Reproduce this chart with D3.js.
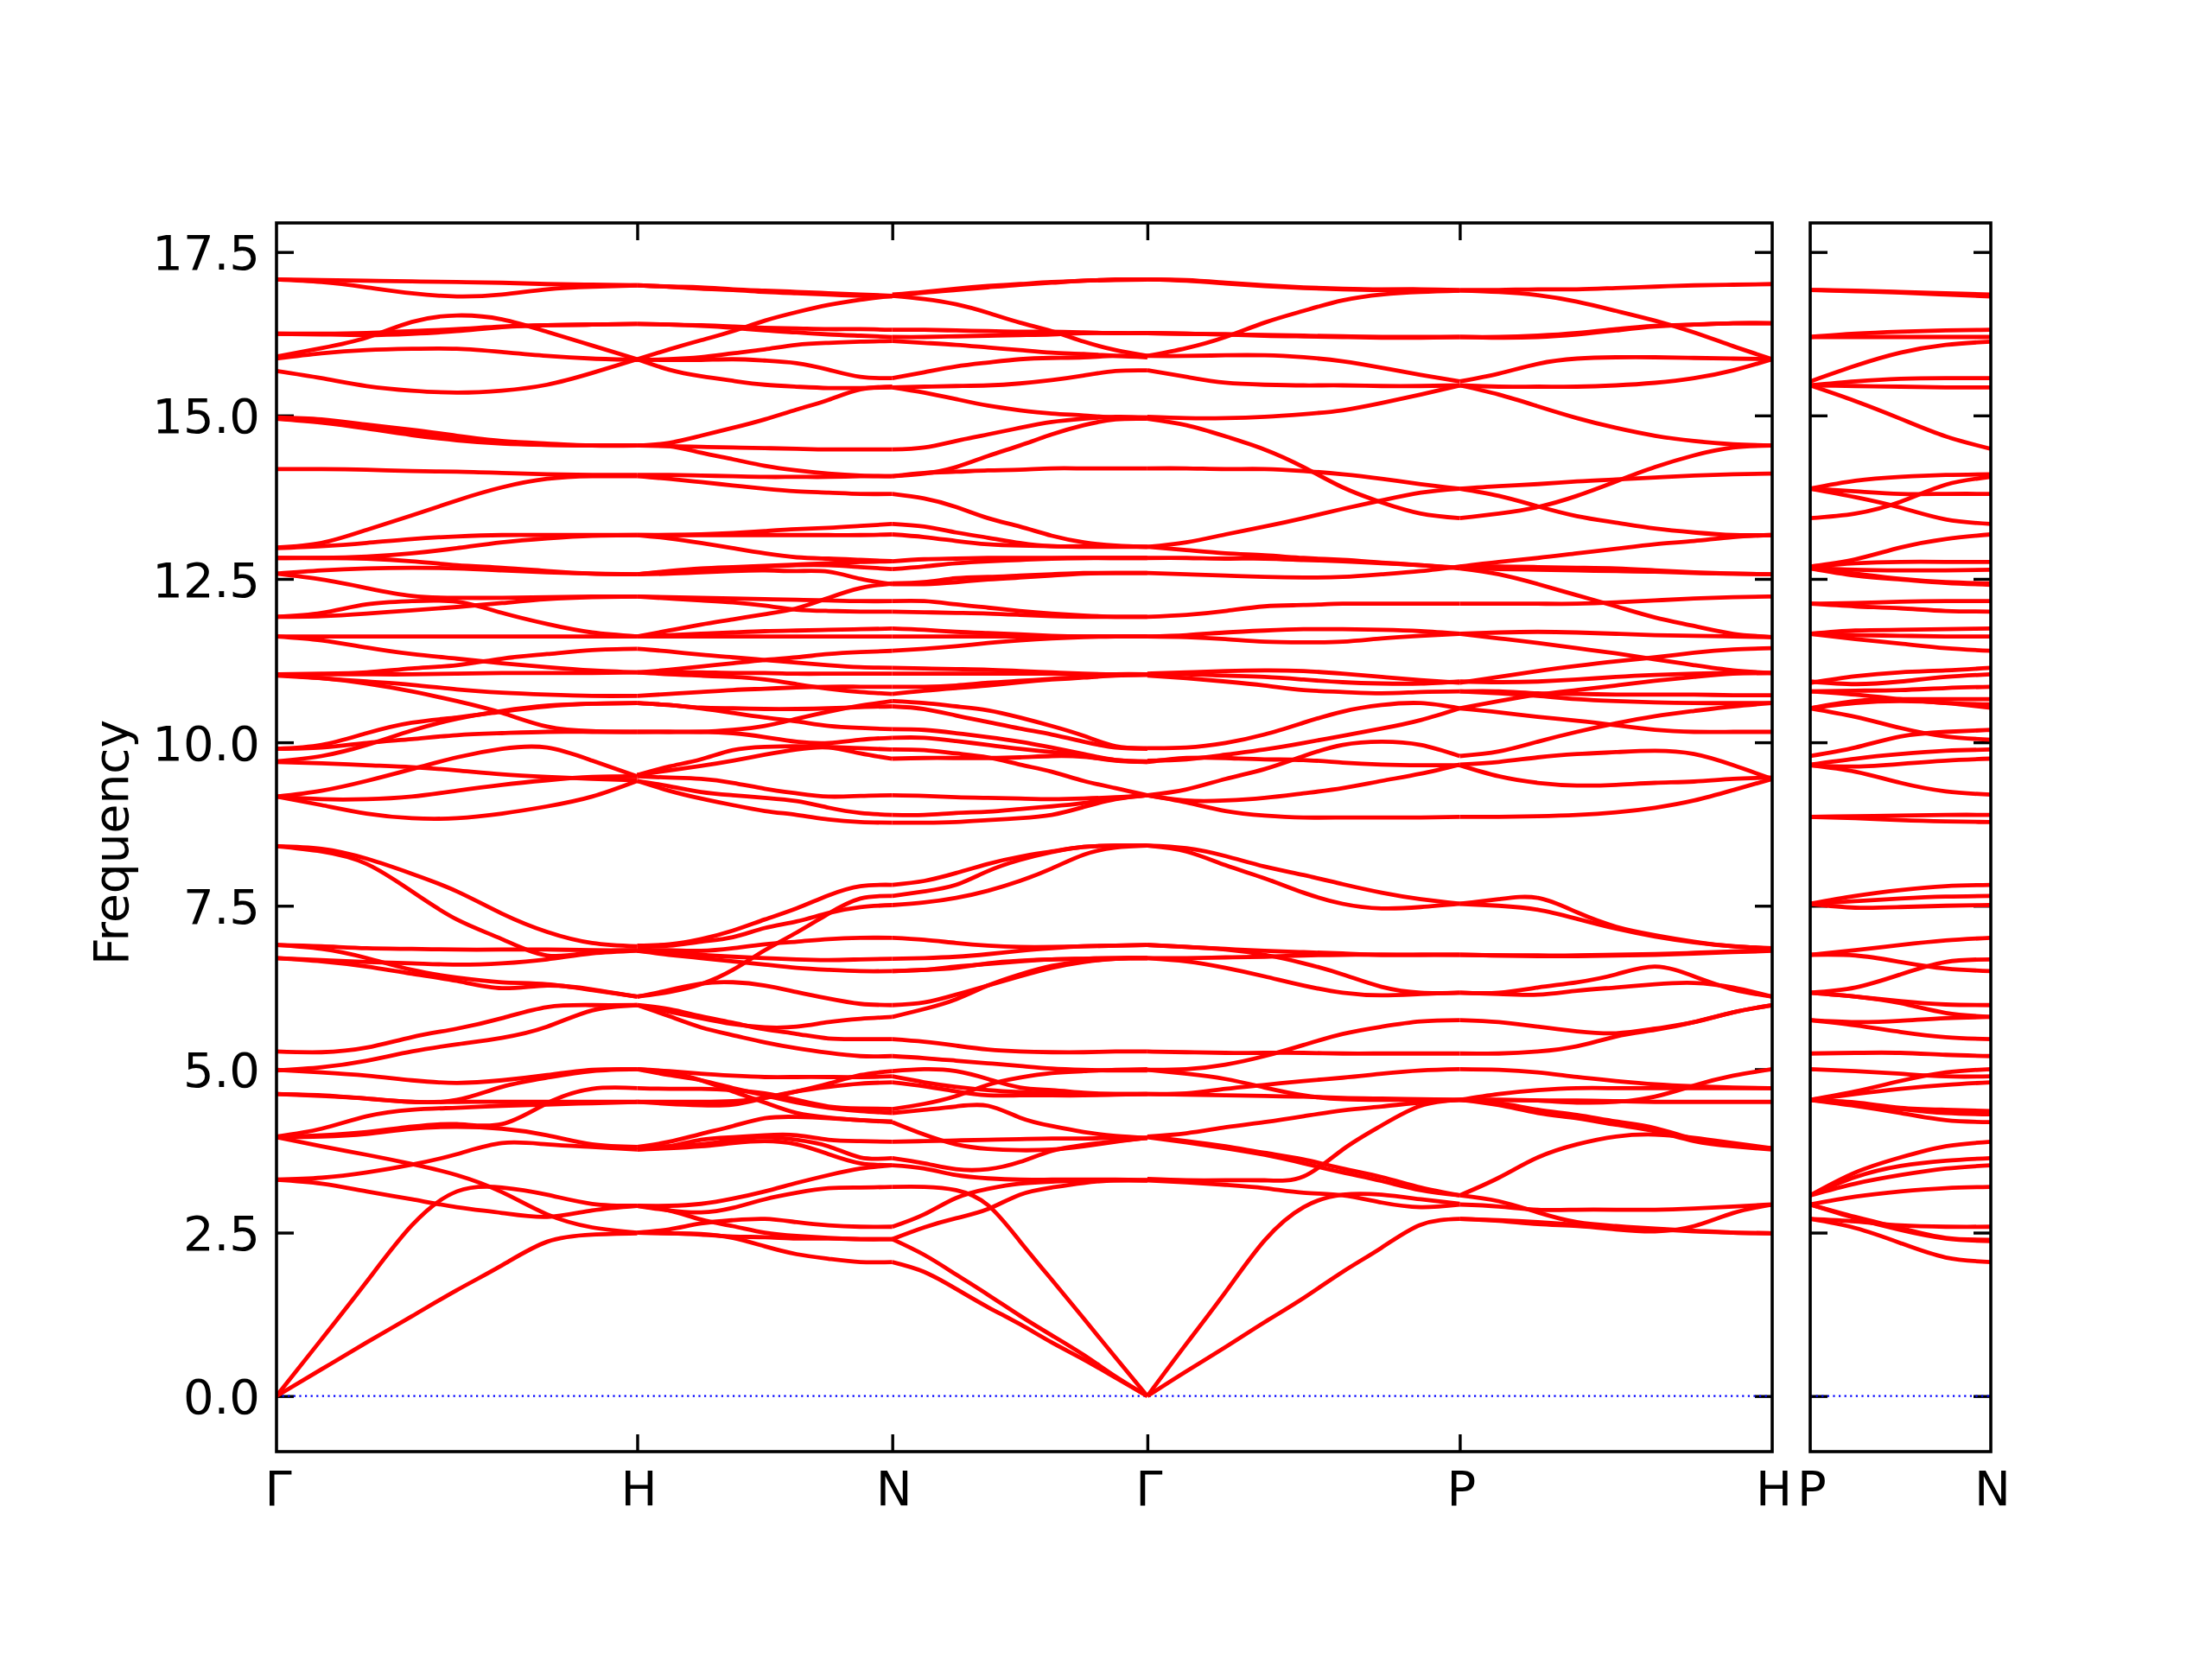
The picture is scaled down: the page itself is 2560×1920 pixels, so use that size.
<!DOCTYPE html>
<html><head><meta charset="utf-8">
<script src="https://cdn.jsdelivr.net/npm/d3@7"></script>
<style>html,body{margin:0;background:#fff}svg{display:block}text{font-family:"DejaVu Sans";fill:#000}</style>
</head><body><svg id="c" width="2560" height="1920"></svg>
<script>
const tickValues=[0,2.5,5,7.5,10,12.5,15,17.5];
const pathStops=[0,1,1.7071,2.4142,3.2802,4.1463];
const pathLabels=["Γ","H","N","Γ","P","H"];
const sideStops=[0,0.5];
const sideLabels=["P","N"];
const yLimits=[-0.85,17.945];
const gammaH=[
[17.08,17.07,17.06,17.05,17.04,17.03,17.01,17.0,16.99],
[17.08,17.04,16.96,16.87,16.82,16.85,16.93,16.97,16.99],
[16.25,16.25,16.26,16.29,16.32,16.36,16.38,16.39,16.4],
[16.25,16.24,16.23,16.25,16.29,16.35,16.38,16.39,16.4],
[15.9,16.03,16.19,16.43,16.53,16.47,16.28,16.07,15.86],
[15.87,15.95,16.0,16.02,16.02,15.97,15.91,15.87,15.85],
[15.68,15.57,15.45,15.38,15.35,15.38,15.47,15.65,15.86],
[14.97,14.94,14.86,14.78,14.69,14.61,14.57,14.54,14.54],
[14.96,14.9,14.82,14.73,14.64,14.58,14.55,14.54,14.54],
[14.95,14.89,14.8,14.7,14.62,14.57,14.55,14.54,14.54],
[14.18,14.18,14.17,14.15,14.14,14.12,14.1,14.09,14.09],
[12.98,13.05,13.25,13.47,13.7,13.9,14.03,14.07,14.07],
[12.97,13.0,13.05,13.11,13.15,13.17,13.17,13.17,13.17],
[12.82,12.82,12.84,12.89,12.97,13.06,13.12,13.16,13.17],
[12.82,12.82,12.81,12.77,12.71,12.67,12.62,12.58,12.57],
[12.58,12.63,12.66,12.67,12.66,12.63,12.6,12.58,12.57],
[12.58,12.49,12.36,12.24,12.21,12.21,12.22,12.23,12.23],
[11.92,11.98,12.11,12.16,12.15,11.98,11.81,11.68,11.62],
[11.92,11.93,11.97,12.02,12.07,12.13,12.19,12.22,12.23],
[11.62,11.62,11.62,11.62,11.62,11.62,11.62,11.62,11.62],
[11.62,11.56,11.45,11.35,11.28,11.21,11.15,11.1,11.07],
[11.04,11.05,11.07,11.13,11.18,11.28,11.35,11.41,11.43],
[11.04,11.04,11.04,11.04,11.05,11.06,11.06,11.06,11.07],
[11.02,10.98,10.93,10.88,10.81,10.76,10.73,10.71,10.71],
[11.03,10.98,10.9,10.78,10.63,10.45,10.24,10.17,10.16],
[9.9,9.96,10.14,10.3,10.38,10.47,10.55,10.59,10.6],
[9.71,9.79,9.96,10.18,10.36,10.48,10.56,10.59,10.6],
[9.9,9.92,9.99,10.05,10.11,10.14,10.16,10.16,10.16],
[9.7,9.68,9.65,9.62,9.57,9.51,9.47,9.44,9.42],
[9.17,9.26,9.41,9.59,9.77,9.9,9.92,9.72,9.48],
[9.17,9.13,9.13,9.17,9.26,9.35,9.42,9.47,9.48],
[9.17,9.04,8.91,8.84,8.84,8.91,9.02,9.17,9.41],
[8.41,8.37,8.22,7.99,7.72,7.38,7.1,6.93,6.88],
[8.41,8.33,8.14,7.72,7.29,6.99,6.74,6.79,6.82],
[6.9,6.88,6.85,6.84,6.83,6.83,6.83,6.82,6.82],
[6.9,6.84,6.7,6.52,6.4,6.33,6.3,6.21,6.11],
[6.7,6.65,6.57,6.46,6.35,6.24,6.28,6.22,6.11],
[6.7,6.67,6.64,6.62,6.6,6.62,6.68,6.77,6.81],
[5.27,5.26,5.33,5.49,5.62,5.78,5.95,5.98,5.98],
[4.98,5.03,5.13,5.27,5.38,5.48,5.65,5.9,5.98],
[4.99,4.95,4.9,4.83,4.79,4.83,4.91,4.99,5.0],
[4.62,4.6,4.55,4.5,4.53,4.73,4.87,4.97,5.0],
[4.62,4.59,4.55,4.5,4.5,4.5,4.5,4.5,4.5],
[3.97,4.09,4.28,4.38,4.41,4.44,4.46,4.48,4.5],
[3.96,3.99,4.04,4.12,4.16,4.16,4.48,4.7,4.71],
[3.96,3.97,4.01,4.09,4.12,4.09,3.99,3.85,3.81],
[3.96,3.82,3.69,3.55,3.38,3.12,2.78,2.58,2.5],
[3.31,3.34,3.42,3.54,3.7,3.87,3.85,3.81,3.77],
[3.31,3.25,3.13,3.01,2.89,2.8,2.74,2.84,2.91],
[0,0.87,1.75,2.61,3.13,3.19,3.08,2.94,2.91],
[0,0.41,0.82,1.22,1.62,2.0,2.36,2.47,2.49]
];
const hN=[
[16.99,16.97,16.96,16.93,16.91,16.89,16.87,16.85,16.83],
[16.99,16.97,16.94,16.92,16.89,16.87,16.85,16.83,16.82],
[15.86,16.01,16.15,16.29,16.45,16.58,16.69,16.77,16.83],
[16.4,16.39,16.38,16.36,16.34,16.33,16.32,16.32,16.31],
[16.4,16.39,16.37,16.34,16.3,16.27,16.24,16.22,16.2],
[15.85,15.86,15.89,15.95,16.01,16.08,16.11,16.13,16.14],
[15.85,15.85,15.85,15.86,15.84,15.8,15.7,15.59,15.57],
[15.86,15.7,15.6,15.53,15.47,15.44,15.42,15.42,15.43],
[14.54,14.58,14.69,14.81,14.94,15.09,15.24,15.4,15.44],
[14.54,14.53,14.52,14.51,14.5,14.49,14.48,14.48,14.48],
[14.54,14.53,14.43,14.33,14.23,14.16,14.11,14.08,14.07],
[14.09,14.09,14.08,14.07,14.06,14.06,14.06,14.07,14.07],
[14.07,14.03,13.98,13.93,13.88,13.84,13.82,13.8,13.8],
[13.17,13.17,13.18,13.2,13.23,13.26,13.28,13.31,13.34],
[13.17,13.17,13.17,13.17,13.17,13.17,13.17,13.17,13.18],
[13.17,13.12,13.05,12.97,12.89,12.83,12.81,12.79,12.77],
[12.57,12.62,12.66,12.68,12.7,12.72,12.74,12.76,12.77],
[12.57,12.61,12.64,12.67,12.69,12.71,12.71,12.68,12.65],
[12.57,12.58,12.6,12.62,12.63,12.62,12.61,12.5,12.42],
[12.23,12.22,12.21,12.2,12.19,12.18,12.17,12.16,12.16],
[12.23,12.2,12.17,12.14,12.09,12.03,12.01,12.0,12.0],
[11.62,11.71,11.8,11.88,11.96,12.05,12.21,12.36,12.43],
[11.62,11.64,11.66,11.68,11.7,11.71,11.72,11.73,11.74],
[11.62,11.62,11.62,11.62,11.62,11.62,11.62,11.62,11.62],
[11.07,11.11,11.16,11.21,11.26,11.3,11.35,11.38,11.4],
[11.43,11.39,11.34,11.3,11.26,11.22,11.18,11.15,11.14],
[11.07,11.07,11.07,11.06,11.06,11.05,11.05,11.05,11.05],
[11.07,11.04,11.02,11.0,10.96,10.89,10.82,10.77,10.74],
[10.71,10.74,10.77,10.8,10.82,10.84,10.85,10.85,10.85],
[10.6,10.57,10.52,10.45,10.38,10.32,10.25,10.22,10.2],
[10.6,10.57,10.53,10.52,10.51,10.51,10.52,10.54,10.55],
[10.16,10.16,10.16,10.19,10.25,10.36,10.47,10.56,10.63],
[10.16,10.16,10.16,10.14,10.08,10.01,9.99,10.04,10.07],
[9.5,9.63,9.74,9.88,9.93,9.94,9.93,9.91,9.89],
[9.5,9.57,9.64,9.72,9.81,9.89,9.92,9.83,9.75],
[9.48,9.46,9.44,9.38,9.29,9.22,9.17,9.18,9.19],
[9.41,9.33,9.24,9.19,9.15,9.1,9.0,8.92,8.89],
[9.41,9.26,9.14,9.04,8.95,8.89,8.82,8.78,8.77],
[6.89,6.91,6.99,7.12,7.29,7.46,7.66,7.8,7.82],
[6.87,6.89,6.95,7.02,7.16,7.26,7.39,7.48,7.51],
[6.11,6.18,6.3,6.52,6.82,7.09,7.38,7.61,7.65],
[6.81,6.82,6.81,6.85,6.91,6.95,6.99,7.01,7.01],
[6.81,6.79,6.75,6.72,6.7,6.68,6.67,6.68,6.69],
[6.81,6.75,6.7,6.65,6.6,6.55,6.52,6.5,6.5],
[6.11,6.21,6.31,6.33,6.28,6.18,6.08,6.0,5.98],
[5.98,5.92,5.81,5.71,5.61,5.54,5.47,5.46,5.46],
[5.98,5.88,5.78,5.69,5.64,5.65,5.72,5.77,5.8],
[5.98,5.81,5.64,5.52,5.41,5.32,5.25,5.2,5.2],
[5.0,4.97,4.93,4.9,4.88,4.88,4.88,4.88,4.89],
[5.0,4.95,4.83,4.66,4.49,4.33,4.26,4.22,4.19],
[5.0,4.91,4.83,4.71,4.6,4.49,4.41,4.36,4.33],
[4.5,4.5,4.5,4.51,4.56,4.66,4.78,4.91,4.97],
[4.71,4.7,4.7,4.68,4.63,4.53,4.43,4.4,4.39],
[4.5,4.47,4.45,4.46,4.56,4.66,4.73,4.78,4.8],
[3.81,3.89,4.01,4.13,4.25,4.27,4.25,4.22,4.2],
[3.77,3.82,3.92,3.96,3.99,3.99,3.92,3.9,3.89],
[3.81,3.82,3.85,3.92,3.96,3.92,3.82,3.65,3.64],
[3.77,3.79,3.82,3.87,3.9,3.85,3.7,3.56,3.53],
[2.91,2.91,2.94,3.02,3.13,3.26,3.38,3.48,3.53],
[2.91,2.84,2.81,2.88,3.01,3.11,3.18,3.19,3.2],
[2.5,2.55,2.64,2.69,2.71,2.66,2.61,2.59,2.59],
[2.5,2.49,2.47,2.44,2.43,2.41,2.41,2.4,2.4],
[2.91,2.84,2.7,2.6,2.5,2.45,2.42,2.4,2.4],
[2.5,2.49,2.48,2.42,2.29,2.17,2.1,2.05,2.05]
];
const nGamma=[
[16.85,16.89,16.94,16.98,17.01,17.04,17.06,17.08,17.08],
[16.83,16.88,16.92,16.96,17.0,17.03,17.06,17.07,17.08],
[16.83,16.78,16.7,16.57,16.42,16.29,16.13,16.0,15.91],
[16.31,16.31,16.3,16.29,16.28,16.28,16.27,16.26,16.26],
[16.2,16.2,16.21,16.22,16.23,16.24,16.26,16.26,16.26],
[16.14,16.11,16.08,16.04,16.0,15.96,15.94,15.91,15.89],
[15.57,15.66,15.75,15.81,15.86,15.88,15.89,15.91,15.91],
[15.43,15.44,15.45,15.46,15.49,15.54,15.61,15.68,15.69],
[15.43,15.35,15.25,15.15,15.08,15.03,15.0,14.97,14.97],
[14.48,14.51,14.61,14.71,14.81,14.9,14.95,14.98,14.97],
[14.07,14.11,14.21,14.38,14.54,14.71,14.85,14.94,14.95],
[14.07,14.12,14.14,14.16,14.17,14.19,14.19,14.19,14.19],
[13.8,13.73,13.6,13.43,13.3,13.16,13.06,13.01,12.99],
[13.34,13.3,13.21,13.13,13.05,13.0,13.0,13.0,12.99],
[13.18,13.14,13.08,13.03,13.01,13.0,12.99,12.99,12.99],
[12.77,12.8,12.81,12.82,12.82,12.82,12.82,12.82,12.82],
[12.65,12.69,12.74,12.77,12.79,12.81,12.82,12.82,12.82],
[12.43,12.45,12.51,12.53,12.55,12.57,12.59,12.59,12.59],
[12.42,12.42,12.45,12.49,12.52,12.55,12.58,12.59,12.59],
[12.16,12.16,12.11,12.06,12.01,11.97,11.94,11.92,11.92],
[12.0,11.99,11.98,11.97,11.95,11.93,11.92,11.92,11.92],
[11.74,11.72,11.69,11.67,11.65,11.63,11.62,11.62,11.62],
[11.62,11.62,11.62,11.62,11.62,11.62,11.62,11.62,11.62],
[11.4,11.43,11.47,11.52,11.56,11.59,11.61,11.62,11.62],
[11.14,11.13,11.12,11.11,11.09,11.07,11.05,11.04,11.04],
[11.05,11.05,11.05,11.05,11.05,11.05,11.04,11.04,11.04],
[10.85,10.85,10.87,10.91,10.94,10.97,11.0,11.04,11.04],
[10.74,10.79,10.83,10.87,10.92,10.96,10.99,11.02,11.03],
[10.63,10.6,10.55,10.49,10.38,10.25,10.1,9.94,9.91],
[10.55,10.51,10.41,10.31,10.21,10.12,10.01,9.92,9.9],
[10.2,10.19,10.14,10.08,10.01,9.92,9.82,9.73,9.71],
[10.07,10.07,10.02,9.96,9.9,9.85,9.79,9.72,9.7],
[9.89,9.88,9.83,9.77,9.66,9.55,9.41,9.3,9.19],
[9.75,9.76,9.76,9.76,9.77,9.79,9.78,9.73,9.7],
[9.19,9.18,9.16,9.15,9.14,9.13,9.14,9.16,9.19],
[8.89,8.89,8.92,8.94,8.98,9.02,9.07,9.14,9.19],
[8.77,8.77,8.78,8.81,8.84,8.89,9.01,9.13,9.19],
[7.82,7.88,8.0,8.14,8.25,8.33,8.4,8.42,8.42],
[7.65,7.72,7.82,8.03,8.2,8.32,8.4,8.42,8.42],
[7.51,7.55,7.62,7.73,7.88,8.07,8.28,8.39,8.42],
[7.01,6.98,6.93,6.89,6.87,6.87,6.88,6.89,6.9],
[6.69,6.7,6.72,6.76,6.81,6.85,6.88,6.89,6.9],
[6.5,6.52,6.55,6.62,6.66,6.68,6.69,6.7,6.7],
[6.5,6.52,6.57,6.61,6.65,6.68,6.69,6.7,6.7],
[5.98,6.02,6.14,6.28,6.42,6.55,6.64,6.69,6.7],
[5.8,5.92,6.07,6.28,6.45,6.58,6.65,6.69,6.7],
[5.46,5.42,5.36,5.3,5.27,5.26,5.26,5.27,5.27],
[5.2,5.17,5.13,5.09,5.05,5.01,4.99,4.98,4.98],
[4.97,5.0,4.97,4.85,4.72,4.68,4.64,4.62,4.62],
[4.89,4.8,4.73,4.68,4.65,4.63,4.62,4.62,4.62],
[4.8,4.74,4.66,4.6,4.6,4.6,4.6,4.61,4.62],
[4.39,4.47,4.59,4.76,4.87,4.94,4.97,4.99,5.0],
[4.33,4.38,4.43,4.44,4.26,4.13,4.04,3.98,3.95],
[4.19,4.0,3.85,3.78,3.76,3.77,3.82,3.89,3.95],
[3.89,3.9,3.91,3.92,3.93,3.94,3.94,3.95,3.95],
[3.64,3.56,3.47,3.47,3.58,3.75,3.84,3.9,3.95],
[3.53,3.48,3.38,3.33,3.31,3.31,3.31,3.31,3.3],
[3.2,3.2,3.15,2.92,2.37,1.78,1.19,0.59,0],
[2.59,2.78,3.03,3.17,3.25,3.28,3.3,3.3,3.3],
[2.4,2.58,2.72,2.86,3.08,3.19,3.26,3.3,3.3],
[2.4,2.16,1.86,1.55,1.23,0.93,0.63,0.3,0],
[2.05,1.9,1.64,1.36,1.1,0.82,0.56,0.28,0]
];
const gammaP=[
[17.08,17.07,17.03,16.99,16.96,16.94,16.93,16.93,16.92],
[17.08,17.06,17.02,16.98,16.95,16.93,16.92,16.92,16.91],
[15.91,16.03,16.2,16.42,16.6,16.76,16.85,16.89,16.91],
[16.26,16.25,16.24,16.23,16.22,16.21,16.2,16.2,16.2],
[16.26,16.25,16.24,16.22,16.21,16.2,16.19,16.19,16.2],
[15.91,15.91,15.92,15.92,15.89,15.83,15.73,15.62,15.52],
[15.69,15.59,15.5,15.47,15.46,15.46,15.45,15.45,15.46],
[14.98,14.96,14.96,14.98,15.02,15.08,15.19,15.32,15.46],
[14.95,14.85,14.68,14.48,14.21,13.9,13.67,13.5,13.43],
[14.19,14.19,14.18,14.18,14.15,14.1,14.03,13.95,13.88],
[12.99,13.06,13.18,13.3,13.43,13.57,13.7,13.82,13.88],
[12.99,12.94,12.89,12.86,12.82,12.79,12.75,12.71,12.66],
[12.82,12.82,12.81,12.81,12.79,12.77,12.74,12.71,12.67],
[12.59,12.57,12.55,12.53,12.52,12.53,12.57,12.62,12.69],
[11.92,11.95,12.01,12.08,12.1,12.12,12.12,12.12,12.12],
[11.62,11.61,11.58,11.54,11.53,11.54,11.59,11.63,11.66],
[11.62,11.64,11.68,11.71,11.73,11.73,11.72,11.7,11.66],
[11.05,11.07,11.09,11.1,11.09,11.05,11.0,10.95,10.91],
[11.04,11.04,11.02,11.0,10.96,10.92,10.9,10.9,10.93],
[11.02,10.98,10.93,10.87,10.8,10.77,10.75,10.77,10.78],
[9.91,9.92,9.99,10.12,10.3,10.47,10.57,10.6,10.52],
[9.72,9.74,9.81,9.89,9.99,10.1,10.21,10.34,10.52],
[9.7,9.76,9.76,9.74,9.73,9.69,9.66,9.65,9.65],
[9.19,9.28,9.44,9.59,9.79,9.96,10.01,9.96,9.79],
[9.19,9.11,9.11,9.15,9.22,9.3,9.41,9.52,9.66],
[9.19,9.08,8.95,8.88,8.85,8.85,8.85,8.85,8.86],
[8.42,8.38,8.26,8.1,7.97,7.83,7.7,7.6,7.53],
[8.42,8.33,8.12,7.92,7.7,7.53,7.46,7.48,7.53],
[6.9,6.87,6.84,6.81,6.79,6.77,6.75,6.75,6.75],
[6.9,6.87,6.83,6.75,6.62,6.45,6.26,6.17,6.17],
[6.7,6.7,6.71,6.72,6.74,6.75,6.75,6.75,6.75],
[6.7,6.65,6.55,6.42,6.28,6.17,6.13,6.15,6.17],
[5.27,5.26,5.25,5.25,5.25,5.24,5.24,5.24,5.24],
[4.99,5.0,5.07,5.2,5.37,5.54,5.65,5.73,5.75],
[4.99,4.93,4.85,4.72,4.6,4.54,4.53,4.53,4.53],
[4.62,4.63,4.7,4.76,4.82,4.87,4.93,4.98,5.0],
[4.62,4.61,4.6,4.59,4.58,4.56,4.55,4.54,4.53],
[3.97,4.02,4.11,4.19,4.28,4.37,4.43,4.49,4.53],
[3.97,3.9,3.82,3.72,3.62,3.48,3.35,3.19,3.07],
[3.96,3.88,3.79,3.69,3.56,3.42,3.29,3.15,3.07],
[3.32,3.3,3.3,3.3,3.36,3.77,4.14,4.44,4.53],
[3.3,3.27,3.23,3.18,3.11,3.07,2.96,2.89,2.93],
[0,0.8,1.59,2.38,2.89,3.08,3.08,3.01,2.94],
[0,0.38,0.75,1.13,1.5,1.9,2.27,2.62,2.71]
];
const pH=[
[16.92,16.92,16.93,16.93,16.95,16.97,16.99,17.0,17.01],
[16.91,16.89,16.84,16.74,16.6,16.45,16.27,16.06,15.86],
[16.2,16.2,16.22,16.26,16.32,16.37,16.39,16.41,16.41],
[16.2,16.19,16.2,16.24,16.3,16.36,16.39,16.41,16.41],
[15.52,15.64,15.79,15.87,15.89,15.89,15.88,15.87,15.86],
[15.46,15.44,15.44,15.44,15.46,15.5,15.57,15.69,15.86],
[15.46,15.32,15.14,14.96,14.81,14.69,14.61,14.56,14.54],
[13.43,13.5,13.6,13.77,13.99,14.21,14.39,14.51,14.54],
[13.88,13.92,13.95,13.99,14.02,14.05,14.08,14.1,14.11],
[13.88,13.77,13.61,13.46,13.36,13.27,13.21,13.17,13.17],
[12.69,12.76,12.82,12.89,12.96,13.03,13.08,13.14,13.17],
[12.69,12.69,12.68,12.67,12.66,12.63,12.6,12.58,12.57],
[12.67,12.65,12.64,12.63,12.62,12.61,12.59,12.58,12.57],
[12.66,12.57,12.42,12.25,12.08,11.91,11.78,11.66,11.61],
[12.12,12.12,12.12,12.12,12.14,12.17,12.2,12.22,12.23],
[11.66,11.68,11.69,11.68,11.66,11.64,11.63,11.62,11.61],
[11.66,11.59,11.52,11.44,11.36,11.27,11.18,11.1,11.06],
[10.91,11.0,11.09,11.17,11.24,11.3,11.37,11.42,11.44],
[10.93,10.92,10.93,10.96,11.0,11.03,11.05,11.06,11.06],
[10.78,10.78,10.75,10.74,10.73,10.73,10.73,10.72,10.72],
[10.52,10.63,10.73,10.8,10.87,10.94,11.0,11.05,11.06],
[10.78,10.75,10.71,10.66,10.63,10.61,10.6,10.6,10.6],
[10.52,10.46,10.39,10.33,10.26,10.19,10.16,10.16,10.16],
[9.79,9.86,10.01,10.16,10.29,10.4,10.48,10.55,10.6],
[9.66,9.7,9.77,9.82,9.85,9.87,9.82,9.65,9.44],
[9.65,9.48,9.38,9.34,9.35,9.38,9.4,9.44,9.46],
[8.86,8.86,8.87,8.89,8.93,9.0,9.11,9.27,9.44],
[7.53,7.6,7.62,7.4,7.18,7.05,6.95,6.88,6.85],
[7.53,7.5,7.44,7.3,7.15,7.03,6.94,6.88,6.85],
[6.75,6.74,6.74,6.74,6.75,6.76,6.78,6.8,6.82],
[6.75,6.74,6.73,6.73,6.74,6.75,6.77,6.79,6.81],
[6.17,6.17,6.25,6.33,6.45,6.57,6.42,6.22,6.11],
[6.17,6.15,6.14,6.2,6.25,6.3,6.32,6.25,6.11],
[5.75,5.72,5.65,5.58,5.55,5.62,5.72,5.87,5.98],
[5.24,5.24,5.27,5.35,5.5,5.6,5.72,5.87,5.98],
[5.0,4.99,4.95,4.88,4.82,4.77,4.74,4.72,4.71],
[4.53,4.62,4.68,4.71,4.71,4.71,4.71,4.71,4.71],
[4.53,4.53,4.52,4.49,4.5,4.58,4.75,4.9,5.0],
[4.53,4.53,4.52,4.52,4.51,4.5,4.5,4.5,4.5],
[4.53,4.48,4.38,4.3,4.2,4.1,3.93,3.83,3.79],
[4.53,4.45,4.33,4.25,4.15,4.05,3.9,3.82,3.77],
[3.07,3.34,3.65,3.85,3.97,4.0,3.95,3.87,3.79],
[3.07,2.98,2.81,2.66,2.6,2.56,2.53,2.5,2.49],
[2.93,2.9,2.85,2.85,2.85,2.85,2.87,2.9,2.93],
[2.71,2.68,2.63,2.6,2.55,2.52,2.6,2.8,2.93],
[2.71,2.69,2.66,2.62,2.58,2.55,2.52,2.5,2.49]
];
const pN=[
[16.92,16.91,16.89,16.87,16.85],
[16.92,16.9,16.88,16.85,16.82],
[16.2,16.25,16.28,16.3,16.31],
[16.2,16.2,16.2,16.2,16.2],
[15.52,15.76,15.96,16.08,16.13],
[15.46,15.52,15.56,15.57,15.57],
[15.46,15.45,15.44,15.43,15.43],
[15.46,15.22,14.95,14.68,14.49],
[13.88,14.0,14.06,14.09,14.1],
[13.88,13.84,13.8,13.8,13.8],
[13.88,13.75,13.59,13.41,13.34],
[13.43,13.5,13.68,13.94,14.06],
[12.69,12.8,12.98,13.11,13.18],
[12.69,12.74,12.76,12.76,12.76],
[12.67,12.64,12.63,12.63,12.64],
[12.66,12.55,12.49,12.44,12.41],
[12.66,12.58,12.5,12.45,12.43],
[12.12,12.13,12.15,12.16,12.16],
[12.12,12.08,12.05,12.01,12.0],
[11.66,11.71,11.72,11.73,11.74],
[11.66,11.64,11.63,11.62,11.62],
[11.66,11.58,11.51,11.44,11.4],
[10.91,11.01,11.07,11.1,11.14],
[10.93,10.89,10.93,11.0,11.04],
[10.78,10.79,10.8,10.83,10.85],
[10.78,10.73,10.66,10.6,10.58],
[10.52,10.63,10.66,10.66,10.66],
[10.52,10.6,10.63,10.6,10.53],
[10.52,10.39,10.22,10.09,10.04],
[9.79,9.92,10.09,10.16,10.19],
[9.66,9.75,9.82,9.87,9.89],
[9.65,9.63,9.67,9.72,9.75],
[9.65,9.55,9.38,9.25,9.2],
[8.86,8.87,8.88,8.89,8.89],
[8.86,8.84,8.81,8.79,8.78],
[7.53,7.65,7.74,7.8,7.82],
[7.53,7.57,7.61,7.64,7.65],
[7.53,7.47,7.48,7.5,7.51],
[6.75,6.74,6.64,6.54,6.5],
[6.75,6.82,6.9,6.97,7.01],
[6.17,6.25,6.45,6.64,6.68],
[6.17,6.11,6.04,5.99,5.98],
[6.17,6.11,6.01,5.86,5.8],
[5.75,5.72,5.74,5.78,5.8],
[5.75,5.67,5.57,5.49,5.46],
[5.24,5.25,5.25,5.22,5.2],
[5.0,4.97,4.93,4.89,4.89],
[4.53,4.66,4.82,4.95,5.0],
[4.53,4.62,4.7,4.76,4.8],
[4.53,4.46,4.39,4.33,4.31],
[4.53,4.49,4.41,4.38,4.36],
[4.53,4.44,4.33,4.22,4.19],
[3.07,3.42,3.65,3.82,3.89],
[3.07,3.35,3.52,3.6,3.64],
[3.07,3.25,3.38,3.48,3.53],
[2.93,3.05,3.13,3.18,3.2],
[2.93,2.74,2.57,2.42,2.39],
[2.93,2.72,2.54,2.41,2.37],
[2.71,2.67,2.61,2.59,2.59],
[2.71,2.57,2.34,2.12,2.05]
];

const svg=d3.select("#c");
const plotTop=258,plotBottom=1680;
const y=d3.scaleLinear().domain(yLimits).range([plotBottom,plotTop]);
const lineW=4.8,spineW=3.6,tickLen=20,fontPx=56;

function panel(id,xr,stops,labels,segments,showY){
  const x=d3.scaleLinear().domain([stops[0],stops[stops.length-1]]).range(xr);
  const g=svg.append("g").attr("id",id);
  const clip=id+"clip";
  svg.append("clipPath").attr("id",clip).append("rect").attr("x",xr[0]).attr("y",plotTop).attr("width",xr[1]-xr[0]).attr("height",plotBottom-plotTop);
  const addAxis=(axis,tx,ty,cls)=>{
    const a=g.append("g").attr("class",cls).attr("transform",`translate(${tx},${ty})`).call(axis);
    a.select(".domain").remove();
    a.selectAll("line").attr("stroke","#000").attr("stroke-width",spineW*0.95);
    return a;
  };
  const fmt=d3.format(".1f");
  const L=addAxis(d3.axisLeft(y).tickValues(tickValues).tickSize(-tickLen).tickFormat(fmt),xr[0],0,"yl");
  L.selectAll("text").attr("x",-19).attr("dy","0.36em").style("font-size",fontPx+"px").attr("text-anchor","end").attr("display",showY?null:"none");
  addAxis(d3.axisRight(y).tickValues(tickValues).tickSize(-tickLen).tickFormat(""),xr[1],0,"yr");
  const inner=stops.slice(1,-1);
  addAxis(d3.axisTop(x).tickValues(inner).tickSize(-tickLen).tickFormat(""),0,plotTop,"xt");
  addAxis(d3.axisBottom(x).tickValues(inner).tickSize(-tickLen).tickFormat(""),0,plotBottom,"xb");
  g.append("g").selectAll("text").data(stops).join("text")
    .attr("x",d=>x(d)+2).attr("y",1742).attr("text-anchor","middle").style("font-size",fontPx+"px")
    .text((d,i)=>labels[i]);
  const plot=g.append("g").attr("clip-path",`url(#${clip})`);
  plot.append("line").attr("x1",xr[0]).attr("x2",xr[1]).attr("y1",y(0)).attr("y2",y(0))
    .attr("stroke","#0000ff").attr("stroke-width",2.2).attr("stroke-dasharray","2.2 4.4");
  segments.forEach(seg=>{
    seg.bands.forEach(b=>{
      const t=d3.scaleLinear().domain([0,b.length-1]).range([seg.from,seg.to]);
      const line=d3.line().x((d,i)=>x(t(i))).y(d=>y(d)).curve(d3.curveNatural);
      plot.append("path").datum(b).attr("d",line).attr("fill","none").attr("stroke","#ff0000")
        .attr("stroke-width",lineW).attr("stroke-linejoin","round");
    });
  });
  g.append("rect").attr("x",xr[0]).attr("y",plotTop).attr("width",xr[1]-xr[0]).attr("height",plotBottom-plotTop)
    .attr("fill","none").attr("stroke","#000").attr("stroke-width",spineW);
}
const segs=[gammaH,hN,nGamma,gammaP,pH].map((bands,i)=>({from:pathStops[i],to:pathStops[i+1],bands}));
panel("main",[320,2051],pathStops,pathLabels,segs,true);
panel("side",[2095,2304],sideStops,sideLabels,[{from:0,to:0.5,bands:pN}],false);
svg.append("text").attr("transform","translate(148,975) rotate(-90)").attr("text-anchor","middle").style("font-size","55px").text("Frequency");
</script></body></html>
